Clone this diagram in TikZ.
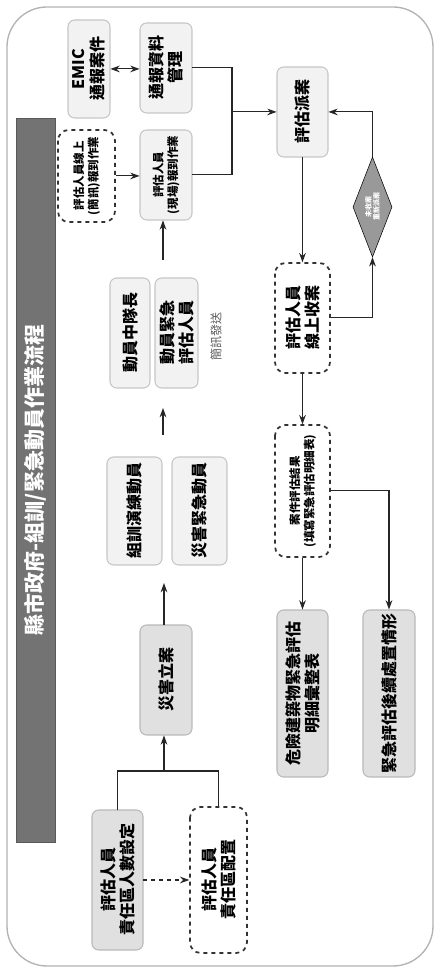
\documentclass[tikz,border=0pt]{standalone}
\usepackage{fontspec}
\setmainfont{Noto Sans CJK TC}
\usepackage{tikz}
\usetikzlibrary{shapes.geometric, arrows.meta, positioning}

\begin{document}
\begin{tikzpicture}[
    x=1pt, y=1pt, scale=0.75, rotate=90, transform shape,
    >={Stealth[length=7pt, width=5pt]},
    light box/.style = {
        rectangle, rounded corners=5pt,
        draw=gray!45, line width=0.8pt,
        fill=gray!10,
        align=center, inner sep=2pt,
        font=\fontsize{16}{19}\selectfont\bfseries
    },
    dark box/.style = {light box, fill=gray!24, draw=gray!55},
    dash box/.style = {
        rectangle, rounded corners=8pt,
        draw=black!80, dashed, line width=1.3pt,
        fill=white,
        align=center, inner sep=2pt,
        font=\fontsize{16}{19}\selectfont\bfseries
    },
    small text/.style = {font=\fontsize{11.5}{14.5}\selectfont\bfseries},
    title bar/.style = {
        rectangle, fill=black!55, draw=black!65,
        text=white, font=\fontsize{21}{24}\selectfont\bfseries
    },
    decision/.style = {
        diamond, aspect=2.5, inner sep=0.5pt,
        draw=black, fill=black!40, text=white,
        align=center, font=\fontsize{7}{8}\selectfont\bfseries
    },
    note/.style = {text=black!65, font=\fontsize{12}{14}\selectfont},
    link/.style = {line width=0.8pt, black!85}
]

\useasboundingbox (0,0) rectangle (969,435);
\draw[gray!60, line width=1pt, rounded corners=30pt] (3,2) rectangle (962,428);

\node[title bar, minimum width=724, minimum height=39] (title) at (489,399.5)
    {縣市政府-組訓/緊急動員作業流程};

% start
\node[dark box, minimum width=140, minimum height=51] (setnum) at (89,317.5) {評估人員\\責任區人數設定};
\node[dash box, minimum width=146, minimum height=57] (zone) at (89,216.5) {評估人員\\責任區配置};
\node[dark box, minimum width=110, minimum height=52] (disaster) at (289,269) {災害立案};

% mobilize
\node[light box, minimum width=108, minimum height=55] (drill) at (458,300.5) {組訓演練動員};
\node[light box, minimum width=108, minimum height=55] (urgent) at (458,235.5) {災害緊急動員};
\node[light box, minimum width=110, minimum height=40] (leader) at (636,305) {動員中隊長};
\node[light box, minimum width=110, minimum height=43] (inspectors) at (636,258.5) {動員緊急\\評估人員};
\node[note] (sms) at (632,219) {簡訊發送};

% check in
\node[dash box, small text, minimum width=92, minimum height=57] (online) at (793,348.5) {評估人員線上\\(簡訊)報到作業};
\node[light box, small text, minimum width=90, minimum height=52] (onsite) at (794,269) {評估人員\\(現場)報到作業};
\node[light box, minimum width=98, minimum height=42] (emic) at (900,346) {EMIC\\通報案件};
\node[light box, minimum width=90, minimum height=52] (report) at (901,269) {通報資料\\管理};

% assessment
\node[light box, minimum width=90, minimum height=51] (dispatch) at (857,132.5) {評估派案};
\node[decision, minimum width=100, minimum height=39] (accept) at (762,62.5) {未收案\\重新派案};
\node[dash box, minimum width=110, minimum height=55] (receive) at (651,132.5) {評估人員\\線上收案};
\node[dash box, small text, minimum width=132, minimum height=55] (result) at (478,132.5) {案件評估結果\\(填寫緊急評估明細表)};
\node[dark box, minimum width=167, minimum height=51] (danger) at (275.5,132.5) {危險建築物緊急評估\\明細彙整表};
\node[dark box, minimum width=167, minimum height=52] (follow) at (275.5,46) {緊急評估後續處置情形};

\coordinate (join) at (198,271);
\coordinate (g1in) at (386,271);
\coordinate (g1out) at (534,272);
\coordinate (g2in) at (561,272);
\coordinate (g2out) at (709,272);
\coordinate (merge) at (857,203);

\draw[link] (setnum.east) -- (setnum.east -| join) -- (zone.east -| join) -- (zone.east);
\draw[link, ->, dashed] (setnum.south) -- (zone.north);
\draw[link, ->] (join) -- (join -| disaster.west);
\draw[link, ->] (disaster.east |- g1in) -- (g1in);
\draw[link, ->] (g1out) -- (g2in);
\draw[link, ->] (g2out) -- (g2out -| onsite.west);

\draw[link, ->] (online.south) -- (online.south |- onsite.north);
\draw[link, <->] (emic.south) -- (emic.south |- report.north);
\draw[link] (report.south) -- (report.south |- merge) -- (onsite.south |- merge) -- (onsite.south);
\draw[link, ->] (merge) -- (dispatch.north);

\draw[link, ->] (dispatch.west) -- (receive.east);
\draw[link, ->] (receive.south) |- (accept.west);
\draw[link, ->] (accept.east) -| (dispatch.south);
\draw[link, ->] (receive.west) -- (result.east);
\draw[link, ->] (result.west) -- (danger.east);
\draw[link, ->] (result.south) |- (follow.east);

\end{tikzpicture}
\end{document}
